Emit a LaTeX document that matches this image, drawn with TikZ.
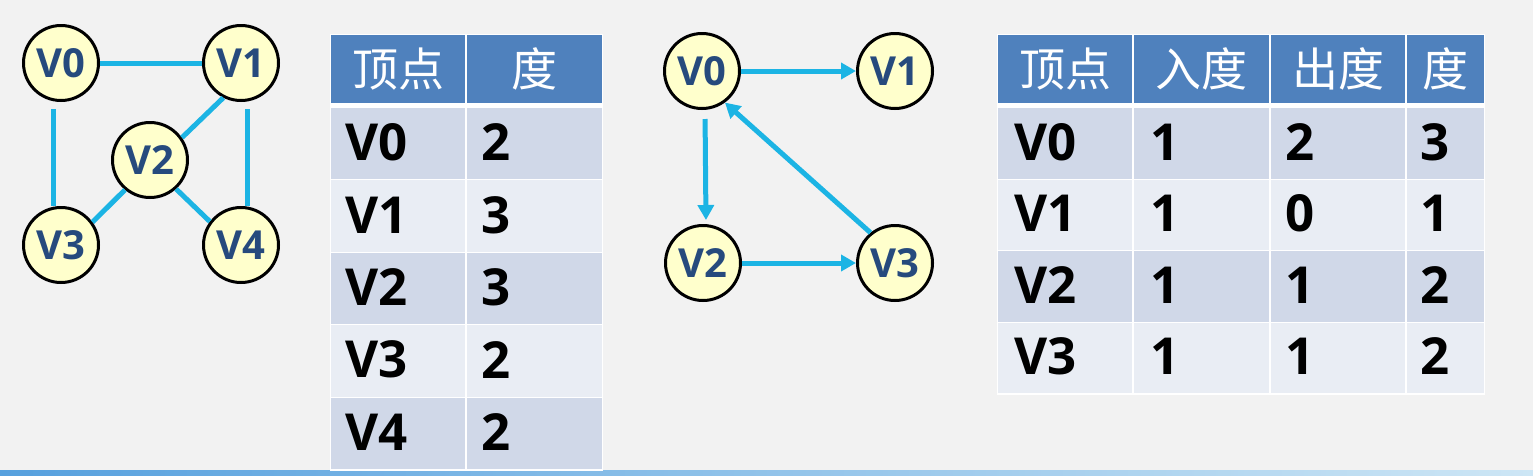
\documentclass[tikz,border=0pt]{standalone}
\usepackage{fontspec}
\setmainfont{Open Sans}
\newfontfamily\cjk{Noto Sans CJK SC}
\usepackage{tikz}
\usetikzlibrary{arrows.meta}
\definecolor{bg}{RGB}{242,242,242}
\definecolor{linkblue}{RGB}{28,180,228}
\definecolor{vfill}{RGB}{255,255,204}
\definecolor{vtext}{RGB}{38,74,125}
\definecolor{head}{RGB}{79,129,189}
\definecolor{banda}{RGB}{208,216,232}
\definecolor{bandb}{RGB}{233,237,244}
\definecolor{bar}{RGB}{86,160,222}
\definecolor{barlight}{RGB}{205,230,245}

\tikzset{
  vertex/.style={circle, draw=black, line width=3pt, fill=vfill, minimum size=75pt,
    inner sep=0pt, text=vtext, font=\fontsize{40}{40}\selectfont\bfseries},
  link/.style={linkblue, line width=5pt},
  dirlink/.style={link, -{Triangle[length=15pt,width=16pt]}},
  headtext/.style={text=white, inner sep=0pt, font=\fontsize{46}{46}\selectfont\cjk},
  celltext/.style={anchor=west, inner sep=0pt, font=\fontsize{51}{51}\selectfont\bfseries},
}

\begin{document}
\begin{tikzpicture}[x=1pt, y=-1pt]
            \useasboundingbox (0,0) rectangle (1533,475);
            \fill[bg] (0,0) rectangle (1533,475);
            \shade[left color=bar, middle color=bar, right color=barlight] (0,470) rectangle (1533,475);

            % undirected graph
            \node[vertex] (u0) at (61,63) {V0};
            \node[vertex] (u1) at (241,63) {V1};
            \node[vertex] (u2) at (150,160) {V2};
            \node[vertex] (u3) at (61,245) {V3};
            \node[vertex] (u4) at (241,245) {V4};
            \draw[link] (u0) -- (u1);
            \draw[link, shorten <=7pt] ([xshift=-8pt]u0.south) -- ([xshift=-8pt]u3.north);
            \draw[link, shorten <=7pt] ([xshift=6pt]u1.south) -- ([xshift=6pt]u4.north);
            \draw[link] (u1.243) -- (u2.35);
            \draw[link] (u2.230) -- (u3.36);
            \draw[link] (u2.312) -- (u4.143);

            % its table
            \fill[white] (330,34) rectangle (603,471);
            \fill[head] (331,35) rectangle (465,103);
            \fill[head] (467,35) rectangle (602,103);
            \node[headtext] (ahead1) at (398,69) {顶点};
            \node[headtext] (ahead2) at (534,69) {度};
            \foreach \i/\lbl/\deg/\band in {0/V0/2/banda,1/V1/3/bandb,2/V2/3/banda,3/V3/2/bandb,4/V4/2/banda} {
                \pgfmathsetmacro{\rowtop}{108+72.4*\i}
                \fill[\band] (331,\rowtop) rectangle (465,\rowtop+71.4);
                \fill[\band] (467,\rowtop) rectangle (602,\rowtop+71.4);
                \node[celltext] (a\lbl) at (345,\rowtop+34.5) {\lbl};
                \node[celltext] (a\lbl deg) at (481,\rowtop+34.5) {\deg};
            }

            % directed graph
            \node[vertex] (d0) at (702,71) {V0};
            \node[vertex] (d1) at (895,71) {V1};
            \node[vertex] (d2) at (703,263) {V2};
            \node[vertex] (d3) at (895,263) {V3};
            \draw[dirlink] (d0.east) -- (d1.west);
            \draw[dirlink, shorten <=9pt, shorten >=4pt] ([xshift=3pt]d0.south) -- ([xshift=3pt]d2.north);
            \draw[dirlink] (d2.east) -- (d3.west);
            \draw[dirlink] (d3.129) -- (d0.306);

            % its table
            \fill[white] (997,34) rectangle (1485,395);
            \fill[head] (998,35) rectangle (1132,103);
            \fill[head] (1134,35) rectangle (1269,103);
            \fill[head] (1271,35) rectangle (1405,103);
            \fill[head] (1407,35) rectangle (1484,103);
            \node[headtext] (bhead1) at (1065,69) {顶点};
            \node[headtext] (bhead2) at (1201,69) {入度};
            \node[headtext] (bhead3) at (1338,69) {出度};
            \node[headtext] (bhead4) at (1445,69) {度};
            \foreach \i/\lbl/\din/\dout/\deg/\band in {0/V0/1/2/3/banda,1/V1/1/0/1/bandb,2/V2/1/1/2/banda,3/V3/1/1/2/bandb} {
                \pgfmathsetmacro{\rowtop}{108+71.5*\i}
                \fill[\band] (998,\rowtop) rectangle (1132,\rowtop+70.5);
                \fill[\band] (1134,\rowtop) rectangle (1269,\rowtop+70.5);
                \fill[\band] (1271,\rowtop) rectangle (1405,\rowtop+70.5);
                \fill[\band] (1407,\rowtop) rectangle (1484,\rowtop+70.5);
                \node[celltext] (b\lbl) at (1014,\rowtop+34) {\lbl};
                \node[celltext] (b\lbl in) at (1150,\rowtop+34) {\din};
                \node[celltext] (b\lbl out) at (1285,\rowtop+34) {\dout};
                \node[celltext] (b\lbl deg) at (1420,\rowtop+34) {\deg};
            }
        \end{tikzpicture}
\end{document}
